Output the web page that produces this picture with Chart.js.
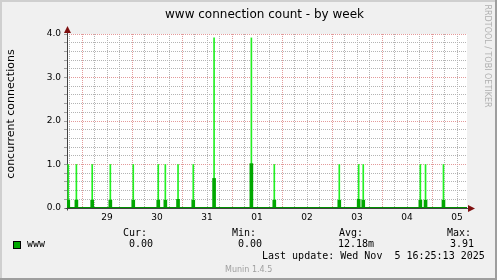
<!DOCTYPE html>
<html lang="en">
<head>
<meta charset="UTF-8">
<title>www connection count - by week</title>
<script src="https://cdn.jsdelivr.net/npm/chart.js"></script>
<style>
  html, body { margin: 0; padding: 0; background: #f0f0f0; }
  #box { width: 497px; height: 280px; position: relative; }
</style>
</head>
<body>
<div id="box"><canvas id="graph"></canvas></div>
<script>
// time in hours since Oct 28 00:00
const viewStart = 16.8;
const viewEnd = 208.8;
const spikeHours = [17.4, 21.3, 28.9, 37.6, 48.6, 60.6, 64.0, 70.1, 77.4, 87.4, 105.3, 116.3, 147.5, 156.8, 159.0, 186.4, 188.9, 197.5];
const spikeMax   = [1.0, 1.0, 1.0, 1.0, 1.0, 1.0, 1.0, 1.0, 1.0, 3.91, 3.91, 1.0, 1.0, 1.0, 1.0, 1.0, 1.0, 1.0];
const spikeAvg   = [0.18, 0.18, 0.18, 0.18, 0.18, 0.18, 0.18, 0.2, 0.18, 0.68, 1.02, 0.18, 0.18, 0.2, 0.18, 0.18, 0.18, 0.18];
const dayNoon   = [36, 60, 84, 108, 132, 156, 180, 204];
const dayLabels = ['29', '30', '31', '01', '02', '03', '04', '05'];
const yTicks    = [0, 1, 2, 3, 4];

const curValue = '0.00';
const minValue = '0.00';
const avgValue = '12.18m';
const maxValue = '3.91';
const lastUpdate = 'Last update: Wed Nov  5 16:25:13 2025';

const DARK = '#00a800';
const BRIGHT = '#22f022';
const MAJOR = '#e39a9a';
const MINOR = '#b4b4b4';
const MONO = '"DejaVu Sans Mono", monospace';
const SANS = '"DejaVu Sans", sans-serif';

const maxPoints = spikeHours.map((h, i) => ({ x: h, y: spikeMax[i] }));
const avgPoints = spikeHours.map((h, i) => ({ x: h, y: spikeAvg[i] }));

// frame, canvas, axes, arrows
const munin = {
  id: 'munin',
  beforeDraw(chart) {
    const c = chart.ctx, a = chart.chartArea;
    c.save();
    c.fillStyle = '#f0f0f0';
    c.fillRect(0, 0, chart.width, chart.height);
    c.fillStyle = '#ffffff';
    c.fillRect(a.left, a.top, a.right - a.left, a.bottom - a.top);
    c.fillStyle = '#cfcfcf';
    c.fillRect(0, 0, chart.width, 2);
    c.fillRect(0, 0, 2, chart.height);
    c.fillStyle = '#9e9e9e';
    c.fillRect(chart.width - 2, 0, 2, chart.height);
    c.fillRect(0, chart.height - 2, chart.width, 2);
    c.restore();
  },
  beforeDatasetsDraw(chart) {
    const c = chart.ctx, a = chart.chartArea;
    const x0 = Math.round(a.left) + 0.5, y0 = Math.round(a.bottom) + 0.5;
    c.save();
    c.strokeStyle = '#404040';
    c.lineWidth = 1;
    c.beginPath();
    c.moveTo(x0, y0 + 2); c.lineTo(x0, a.top - 4);
    c.moveTo(x0 - 2, y0); c.lineTo(a.right + 4, y0);
    c.stroke();
    c.fillStyle = '#7f1010';
    c.beginPath();
    c.moveTo(x0, a.top - 8); c.lineTo(x0 - 3.5, a.top - 1); c.lineTo(x0 + 3.5, a.top - 1);
    c.closePath(); c.fill();
    c.beginPath();
    c.moveTo(a.right + 8, y0); c.lineTo(a.right + 1, y0 - 3.5); c.lineTo(a.right + 1, y0 + 3.5);
    c.closePath(); c.fill();
    c.restore();
  },
  afterDraw(chart) {
    const c = chart.ctx;
    c.save();
    c.fillStyle = '#000';
    c.font = '12px ' + SANS;
    c.textBaseline = 'alphabetic';
    c.fillText('www connection count - by week', 165, 18);

    c.save();
    c.translate(14, 114);
    c.rotate(-Math.PI / 2);
    c.textAlign = 'center';
    c.font = '11px ' + SANS;
    c.fillText('concurrent connections', 0, 0);
    c.restore();

    c.save();
    c.translate(485, 56);
    c.rotate(Math.PI / 2);
    c.textAlign = 'center';
    c.fillStyle = '#b0b0b0';
    c.font = '8px ' + SANS;
    c.fillText('RRDTOOL / TOBI OETIKER', 0, 0);
    c.restore();

    c.font = '10px ' + MONO;
    c.fillText('Cur:', 123, 236);
    c.fillText('Min:', 232, 236);
    c.fillText('Avg:', 339, 236);
    c.fillText('Max:', 447, 236);
    c.fillText('www', 27, 247);
    c.fillText(curValue, 129, 247);
    c.fillText(minValue, 238, 247);
    c.fillText(avgValue, 338, 247);
    c.fillText(maxValue, 450, 247);
    c.fillText(lastUpdate, 262, 259);

    c.fillStyle = DARK;
    c.fillRect(13.5, 241.5, 7, 7);
    c.strokeStyle = '#000';
    c.lineWidth = 1;
    c.strokeRect(13.5, 241.5, 7, 7);

    c.fillStyle = '#a0a0a0';
    c.font = '8px ' + SANS;
    c.fillText('Munin 1.4.5', 225, 272);
    c.restore();
  }
};

new Chart(document.getElementById('graph'), {
  type: 'bar',
  data: {
    datasets: [
      {
        label: 'www avg',
        data: avgPoints,
        backgroundColor: DARK,
        barThickness: 3,
        grouped: false,
        order: 0
      },
      {
        label: 'www max',
        data: maxPoints,
        backgroundColor: BRIGHT,
        barThickness: 1,
        grouped: false,
        order: 2
      },
      {
        type: 'line',
        label: 'www base',
        data: [{ x: viewStart, y: 0 }, { x: viewEnd, y: 0 }],
        borderColor: '#009000',
        borderWidth: 2,
        pointRadius: 0,
        order: -1
      }
    ]
  },
  options: {
    responsive: true,
    maintainAspectRatio: false,
    animation: false,
    layout: { padding: { left: 0, top: 34, right: 30, bottom: 52 } },
    plugins: { legend: { display: false }, tooltip: { enabled: false } },
    scales: {
      x: {
        type: 'linear',
        min: viewStart,
        max: viewEnd,
        offset: false,
        afterFit(scale) { scale.height = 20; },
        afterBuildTicks(scale) {
          const t = [];
          for (let h = 18; h < viewEnd; h += 6) t.push({ value: h });
          scale.ticks = t;
        },
        ticks: {
          autoSkip: false,
          maxRotation: 0,
          padding: 1,
          color: '#000',
          font: { family: SANS, size: 9 },
          callback(v) {
            const i = dayNoon.indexOf(v);
            return i >= 0 ? dayLabels[i] : '';
          }
        },
        grid: {
          offset: false,
          lineWidth: 1,
          tickLength: 3,
          tickColor: 'rgba(0,0,0,0)',
          color(ctx) {
            const v = ctx.tick ? ctx.tick.value : 0;
            return v % 24 === 0 ? MAJOR : MINOR;
          }
        },
        border: { display: false, dash: [1, 1] }
      },
      y: {
        type: 'linear',
        min: 0,
        max: 4,
        afterFit(scale) { scale.width = 67; },
        afterBuildTicks(scale) {
          const t = [];
          for (let k = 0; k <= 20; k++) t.push({ value: k / 5 });
          scale.ticks = t;
        },
        ticks: {
          autoSkip: false,
          padding: 3,
          color: '#000',
          font: { family: SANS, size: 9 },
          callback(v) {
            const r = Math.round(v);
            return Math.abs(v - r) < 1e-6 && yTicks.includes(r) ? r.toFixed(1) : '';
          }
        },
        grid: {
          lineWidth: 1,
          tickLength: 3,
          tickColor: '#a0a0a0',
          color(ctx) {
            const v = ctx.tick ? ctx.tick.value : 0;
            return Math.abs(v - Math.round(v)) < 1e-6 ? MAJOR : MINOR;
          }
        },
        border: { display: false, dash: [1, 1] }
      }
    }
  },
  plugins: [munin]
});
</script>
</body>
</html>
